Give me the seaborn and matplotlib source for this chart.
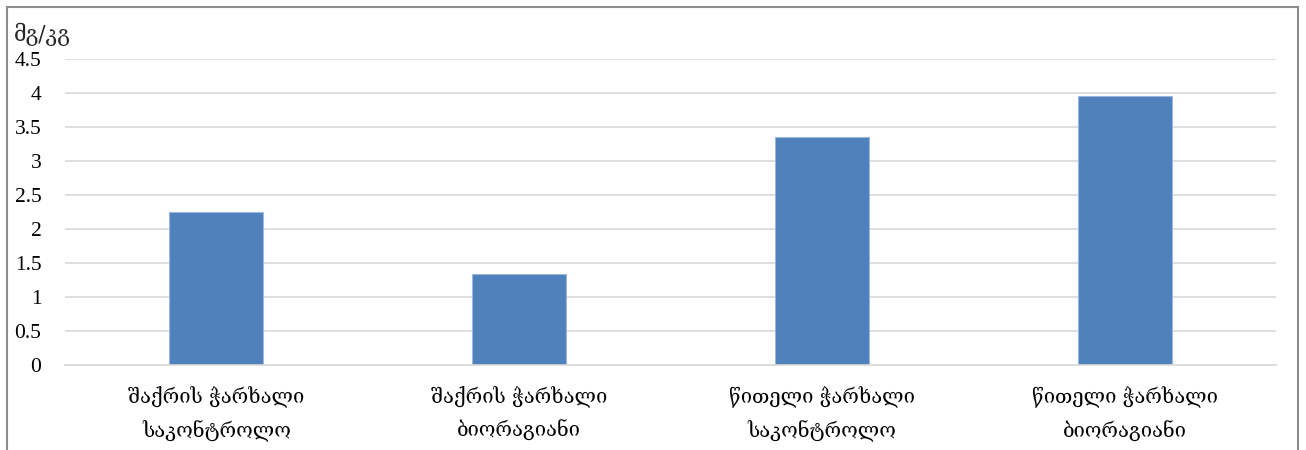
import matplotlib
matplotlib.use("Agg")
import matplotlib.pyplot as plt
import seaborn as sns
import pandas as pd
from matplotlib.patches import Rectangle

categories = ["შაქრის ჭარხალი\nსაკონტროლო", "შაქრის ჭარხალი\nბიორაგიანი",
              "წითელი ჭარხალი\nსაკონტროლო", "წითელი ჭარხალი\nბიორაგიანი"]
values = [2.25, 1.34, 3.36, 3.95]
yticks = [0, 0.5, 1, 1.5, 2, 2.5, 3, 3.5, 4, 4.5]
ytick_labels = ["0", "0.5", "1", "1.5", "2", "2.5", "3", "3.5", "4", "4.5"]
unit_label = "მგ/კგ"

sns.set_theme(style="white")
plt.rcParams['font.family'] = ['Liberation Serif', 'DejaVu Serif']

df = pd.DataFrame({"cat": categories, "val": values})

fig = plt.figure(figsize=(13.06, 4.5), dpi=100)
ax = fig.add_axes([65/1306, 1-365/450, (1276-65)/1306, (365-59)/450])

sns.barplot(data=df, x="cat", y="val", color="#4f81bd", width=0.31,
            saturation=1, ax=ax, edgecolor="#9bb7dd", linewidth=0.8)

ax.set_ylim(0, 4.5)
ax.set_xlim(-0.5, 3.5)
ax.set_yticks(yticks)
ax.set_yticklabels(ytick_labels)
ax.yaxis.grid(True, color="#d9d9d9", linewidth=1.2)
ax.set_axisbelow(True)
ax.set_xlabel("")
ax.set_ylabel("")
for s in ["left", "right", "top"]:
    ax.spines[s].set_visible(False)
ax.spines["bottom"].set_color("#d9d9d9")
ax.spines["bottom"].set_linewidth(1.2)
ax.tick_params(axis="y", length=0, pad=17, labelsize=15.5, labelcolor="black")
ax.tick_params(axis="x", length=0, pad=15, labelsize=14.5, labelcolor="black")
for t in ax.get_xticklabels():
    t.set_linespacing(1.75)
    t.set_family(['DejaVu Serif'])

fig.text(14/1306, 1-34/450, unit_label, fontsize=15.5, family=['DejaVu Serif'],
         va="center", ha="left")

fig.patches.append(Rectangle((7/1306, -0.1), (1298-7)/1306, 1.1-7/450,
                             transform=fig.transFigure, fill=False,
                             edgecolor="#8c8c8c", linewidth=1.5))

fig.savefig("out.png", dpi=100)
